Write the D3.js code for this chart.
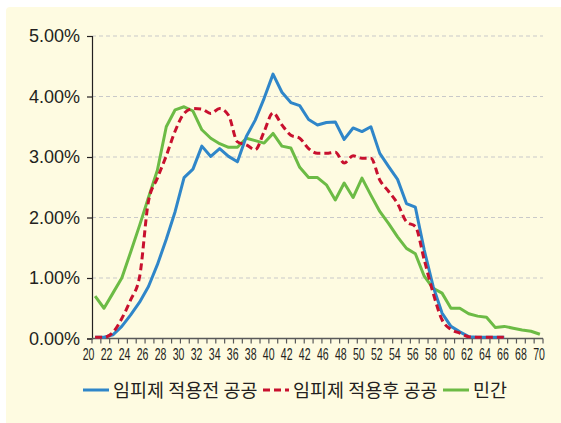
<!DOCTYPE html>
<html>
<head>
<meta charset="utf-8">
<script src="https://cdn.jsdelivr.net/npm/d3@7"></script>
<style>
  html, body { margin: 0; padding: 0; background: #fff; }
  svg { display: block; }
</style>
</head>
<body>
<svg id="chart" width="561" height="423"></svg>
<script>
const ages = [20, 21, 22, 23, 24, 25, 26, 27, 28, 29, 30, 31, 32, 33, 34, 35, 36, 37, 38, 39,
  40, 41, 42, 43, 44, 45, 46, 47, 48, 49, 50, 51, 52, 53, 54, 55, 56, 57, 58, 59,
  60, 61, 62, 63, 64, 65, 66, 67, 68, 69, 70];

// values in %
const before_public = [0.02, 0.02, 0.06, 0.2, 0.39, 0.6, 0.86, 1.22, 1.64, 2.1, 2.66, 2.8, 3.18, 3.01, 3.14, 3.01, 2.92, 3.34, 3.61, 3.97,
  4.37, 4.07, 3.9, 3.85, 3.62, 3.53, 3.57, 3.58, 3.29, 3.48, 3.42, 3.5, 3.06, 2.84, 2.63, 2.23, 2.17, 1.46, 0.86, 0.42,
  0.2, 0.11, 0.03, 0.02, 0.02, 0.02, 0.02, null, null, null, null];
const after_public = [0.02, 0.02, 0.1, 0.33, 0.64, 1.02, 2.27, 2.65, 3.02, 3.43, 3.72, 3.8, 3.79, 3.72, 3.8, 3.69, 3.25, 3.2, 3.12, 3.42,
  3.73, 3.53, 3.36, 3.31, 3.14, 3.06, 3.06, 3.08, 2.9, 3.02, 2.98, 2.98, 2.62, 2.43, 2.23, 1.93, 1.85, 1.3, 0.75, 0.31,
  0.15, 0.09, 0.03, 0.02, 0.02, 0.02, 0.02, null, null, null, null];
const private_sector = [0.7, 0.5, 0.75, 1.0, 1.43, 1.87, 2.33, 2.78, 3.5, 3.78, 3.83, 3.76, 3.45, 3.31, 3.22, 3.16, 3.16, 3.31, 3.27, 3.23,
  3.39, 3.18, 3.15, 2.83, 2.66, 2.66, 2.54, 2.29, 2.57, 2.33, 2.65, 2.37, 2.1, 1.9, 1.68, 1.49, 1.4, 1.03, 0.83, 0.75,
  0.5, 0.5, 0.41, 0.37, 0.35, 0.18, 0.2, 0.17, 0.14, 0.12, 0.07];

// x tick labels as printed (44 is printed as 42 in the original)
const x_labels = ['20', '22', '24', '26', '28', '30', '32', '34', '36', '38', '40', '42', '42', '46', '48',
  '50', '52', '54', '56', '58', '60', '62', '64', '66', '68', '70'];
const y_ticks = [0, 1, 2, 3, 4, 5];

const series_names = ['임피제 적용전 공공', '임피제 적용후 공공', '민간'];

(function() {
  const svg = d3.select('#chart');
  const left = 92, right = 543, top = 36, bottom = 338.5;

  svg.append('rect').attr('x', 6).attr('y', 7).attr('width', 561).attr('height', 430)
    .attr('rx', 4).attr('fill', '#fefbe1');

  const xScale = d3.scalePoint().domain(ages).range([left, right]).padding(0.35);
  const tickScale = d3.scaleLinear().domain([0, ages.length]).range([left, right]);
  const labelScale = d3.scaleLinear().domain([0, x_labels.length - 1]).range([88.5, 539]);
  const yScale = d3.scaleLinear().domain([0, 5]).range([bottom, top]);

  // grid
  svg.append('g').selectAll('line').data(y_ticks.filter(function(d) { return d > 0; })).enter().append('line')
    .attr('x1', left).attr('x2', right)
    .attr('y1', function(d) { return yScale(d); }).attr('y2', function(d) { return yScale(d); })
    .attr('stroke', '#c9c9c9').attr('stroke-width', 1).attr('stroke-dasharray', '4,3');

  // y axis
  const yAxis = d3.axisLeft(yScale).tickValues(y_ticks).tickSize(5).tickPadding(7)
    .tickFormat(function(d) { return d.toFixed(2) + '%'; });
  const yg = svg.append('g').attr('transform', 'translate(' + left + ',0)').call(yAxis);
  yg.select('.domain').attr('stroke', '#231f20').attr('stroke-width', 1.2);
  yg.selectAll('.tick line').attr('stroke', '#231f20').attr('stroke-width', 1.2);
  yg.selectAll('text').attr('font-family', 'Liberation Sans, Arial, sans-serif')
    .attr('font-size', 18).attr('fill', '#231f20');

  // x axis line + minor ticks
  svg.append('line').attr('x1', left).attr('x2', right).attr('y1', bottom).attr('y2', bottom)
    .attr('stroke', '#595959').attr('stroke-width', 1.5);
  svg.append('g').selectAll('line').data(d3.range(ages.length + 1)).enter().append('line')
    .attr('x1', function(d) { return tickScale(d); }).attr('x2', function(d) { return tickScale(d); })
    .attr('y1', bottom).attr('y2', bottom + 5)
    .attr('stroke', '#595959').attr('stroke-width', 1.2);

  svg.append('g').selectAll('text').data(x_labels).enter().append('text')
    .attr('transform', function(d, i) { return 'translate(' + labelScale(i) + ',' + (bottom + 21) + ') scale(0.64,1)'; })
    .attr('text-anchor', 'middle')
    .attr('font-family', 'Liberation Sans, Arial, sans-serif').attr('font-size', 16.5)
    .attr('fill', '#231f20')
    .text(function(d) { return d; });

  // lines
  const line = d3.line().defined(function(d) { return d != null; })
    .x(function(d, i) { return xScale(ages[i]); })
    .y(function(d) { return yScale(d); });

  const styles = [
    { data: before_public, color: '#2f86c9', dash: null },
    { data: after_public, color: '#c8102e', dash: '7,4' },
    { data: private_sector, color: '#6cbb45', dash: null }
  ];

  svg.append('path').datum(private_sector).attr('d', line).attr('fill', 'none')
    .attr('stroke', styles[2].color).attr('stroke-width', 3).attr('stroke-linejoin', 'round');
  svg.append('path').datum(before_public).attr('d', line).attr('fill', 'none')
    .attr('stroke', styles[0].color).attr('stroke-width', 3).attr('stroke-linejoin', 'round');
  svg.append('path').datum(after_public).attr('d', line.curve(d3.curveMonotoneX)).attr('fill', 'none')
    .attr('stroke', styles[1].color).attr('stroke-width', 3).attr('stroke-dasharray', styles[1].dash);

  // legend
  const legendX = [83, 263, 443];
  const legend = svg.append('g').selectAll('g').data(series_names).enter().append('g')
    .attr('transform', function(d, i) { return 'translate(' + legendX[i] + ',390)'; });
  legend.append('line').attr('x1', 0).attr('x2', 26).attr('y1', 0).attr('y2', 0)
    .attr('stroke', function(d, i) { return styles[i].color; }).attr('stroke-width', 3)
    .attr('stroke-dasharray', function(d, i) { return styles[i].dash; });
  legend.append('text').attr('x', 30).attr('y', 0).attr('dy', '0.36em')
    .attr('font-family', 'Noto Sans CJK KR, sans-serif').attr('font-size', 18.5)
    .attr('fill', '#231f20')
    .text(function(d) { return d; });
}());
</script>
</body>
</html>
